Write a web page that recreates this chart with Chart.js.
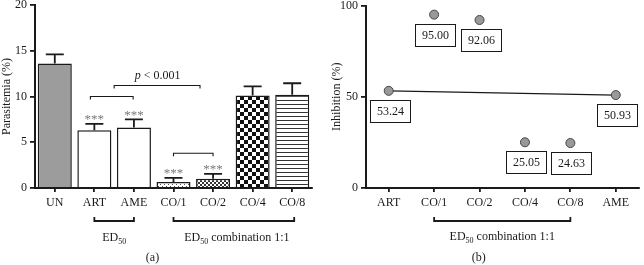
<!DOCTYPE html>
<html><head><meta charset="utf-8">
<script src="https://cdn.jsdelivr.net/npm/chart.js@4"></script>
<style>
html,body{margin:0;padding:0;background:#fff;overflow:hidden}
#wrap{position:relative;width:644px;height:265px;background:#fff}
canvas{position:absolute;top:0}
#ca{left:0}
#cb{left:330px}
</style></head><body>
<div id="wrap"><canvas id="ca" width="330" height="265"></canvas><canvas id="cb" width="314" height="265"></canvas></div>
<script>
// ---- data ----
const groupsA = ['UN','ART','AME','CO/1','CO/2','CO/4','CO/8'];
const parasitemia = [13.6, 6.3, 6.6, 0.65, 1.0, 10.1, 10.2];
const parasitemiaErr = [1.0, 0.7, 0.9, 0.45, 0.55, 1.0, 1.25];
const significant = [false, true, true, true, true, false, false];
const ticksA = [0, 5, 10, 15, 20];

const groupsB = ['ART','CO/1','CO/2','CO/4','CO/8','AME'];
const inhibition = [53.24, 95.00, 92.06, 25.05, 24.63, 50.93];
const ticksB = [0, 50, 100];

// ---- styling ----
const FONT = 'Liberation Serif';
const INK = '#1a1a1a';
const tickFont = {family: FONT, size: 12};

function makePattern(kind){
  const c = document.createElement('canvas');
  const g = c.getContext('2d');
  if (kind === 'dots'){ c.width=4; c.height=4; g.fillStyle='#fff'; g.fillRect(0,0,4,4); g.fillStyle='#555'; g.fillRect(0,0,1,1); g.fillRect(2,2,1,1); }
  else if (kind === 'fine'){ c.width=4; c.height=4; g.fillStyle='#fff'; g.fillRect(0,0,4,4); g.fillStyle='#333'; g.fillRect(0,0,2,2); g.fillRect(2,2,2,2); }
  else if (kind === 'check'){ c.width=8; c.height=8; g.fillStyle='#fff'; g.fillRect(0,0,8,8); g.fillStyle='#111'; g.fillRect(0,0,4,4); g.fillRect(4,4,4,4); }
  else if (kind === 'stripes'){ c.width=4; c.height=4; g.fillStyle='#fff'; g.fillRect(0,0,4,4); g.fillStyle='#333'; g.fillRect(0,0,4,1); }
  return g.createPattern(c, 'repeat');
}
const fillsA = ['#9c9c9c', '#ffffff', '#ffffff', makePattern('dots'), makePattern('fine'), makePattern('check'), makePattern('stripes')];

function catX(scale, f){
  const a = scale.getPixelForValue(0), b = scale.getPixelForValue(1);
  return a + f*(b-a);
}
function bracket(ctx, x1, x2, y, d){
  ctx.beginPath();
  ctx.moveTo(x1, y + d); ctx.lineTo(x1, y); ctx.lineTo(x2, y); ctx.lineTo(x2, y + d);
  ctx.stroke();
}
function edText(ctx, rest, cx, cy){
  ctx.save();
  ctx.textBaseline = 'middle';
  ctx.font = `12px "${FONT}"`;
  const w1 = ctx.measureText('ED').width;
  ctx.font = `8px "${FONT}"`;
  const w2 = ctx.measureText('50').width;
  ctx.font = `12px "${FONT}"`;
  const w3 = rest ? ctx.measureText(rest).width : 0;
  let x = cx - (w1 + w2 + w3)/2;
  ctx.textAlign = 'left';
  ctx.fillStyle = INK;
  ctx.fillText('ED', x, cy); x += w1;
  ctx.font = `8px "${FONT}"`;
  ctx.fillText('50', x, cy + 4); x += w2;
  if (rest){ ctx.font = `12px "${FONT}"`; ctx.fillText(rest, x, cy); }
  ctx.restore();
}

const annotA = {
  id: 'annotA',
  afterDatasetsDraw(chart){
    const ctx = chart.ctx, xs = chart.scales.x, ys = chart.scales.y, area = chart.chartArea;
    const meta = chart.getDatasetMeta(0);
    ctx.save();
    ctx.strokeStyle = INK; ctx.lineWidth = 1.8;
    meta.data.forEach((bar, i) => {
      const top = ys.getPixelForValue(parasitemia[i] + parasitemiaErr[i]);
      ctx.beginPath();
      ctx.moveTo(bar.x, bar.y); ctx.lineTo(bar.x, top);
      ctx.moveTo(bar.x - 9, top); ctx.lineTo(bar.x + 9, top);
      ctx.stroke();
      if (significant[i]){
        ctx.fillStyle = '#7a7a7a';
        ctx.font = `13px "${FONT}"`;
        ctx.textAlign = 'center'; ctx.textBaseline = 'middle';
        ctx.fillText('***', bar.x, top - 4);
      }
    });
    ctx.lineWidth = 1.1;
    // comparison brackets above bars
    bracket(ctx, catX(xs, 0.9), catX(xs, 1.98), ys.getPixelForValue(10.0), 3);
    bracket(ctx, catX(xs, 1.5), catX(xs, 3.67), ys.getPixelForValue(11.2), 3);
    bracket(ctx, catX(xs, 3.0), catX(xs, 4.0), ys.getPixelForValue(3.8), 3);
    // p value text
    const py = ys.getPixelForValue(12.3);
    ctx.fillStyle = INK; ctx.textBaseline = 'middle'; ctx.textAlign = 'left';
    ctx.font = `italic 12px "${FONT}"`;
    const wp = ctx.measureText('p').width;
    ctx.font = `12px "${FONT}"`;
    const wr = ctx.measureText(' < 0.001').width;
    let tx = catX(xs, 2.6) - (wp + wr)/2;
    ctx.font = `italic 12px "${FONT}"`; ctx.fillText('p', tx, py);
    ctx.font = `12px "${FONT}"`; ctx.fillText(' < 0.001', tx + wp, py);
    // group brackets below axis
    ctx.lineWidth = 1.8;
    const by = area.bottom + 33;
    bracket(ctx, catX(xs, 1), catX(xs, 2), by, -4);
    bracket(ctx, catX(xs, 3), catX(xs, 6.05), by, -4);
    edText(ctx, '', catX(xs, 1.5), area.bottom + 50);
    edText(ctx, ' combination 1:1', catX(xs, 4.6), area.bottom + 50);
    ctx.font = `12px "${FONT}"`; ctx.textAlign = 'center'; ctx.fillStyle = INK;
    ctx.fillText('(a)', catX(xs, 2.47), area.bottom + 70);
    ctx.restore();
  }
};

const annotB = {
  id: 'annotB',
  afterDatasetsDraw(chart){
    const ctx = chart.ctx, xs = chart.scales.x, area = chart.chartArea;
    const meta = chart.getDatasetMeta(0);
    ctx.save();
    ctx.strokeStyle = INK; ctx.lineWidth = 1;
    ctx.font = `12px "${FONT}"`; ctx.textAlign = 'center'; ctx.textBaseline = 'middle'; ctx.fillStyle = INK;
    meta.data.forEach((pt, i) => {
      const w = 40, h = 22;
      const bx = Math.round(pt.x + 1 - w/2) + 0.5, by = Math.round(pt.y + 9) + 0.5;
      ctx.fillStyle = '#fff'; ctx.fillRect(bx, by, w, h);
      ctx.strokeRect(bx, by, w, h);
      ctx.fillStyle = INK;
      ctx.fillText(inhibition[i].toFixed(2), bx + w/2, by + h/2 + 0.5);
    });
    ctx.lineWidth = 1.8;
    const by = area.bottom + 33;
    bracket(ctx, catX(xs, 1), catX(xs, 4), by, -4);
    edText(ctx, ' combination 1:1', catX(xs, 2.5), area.bottom + 49);
    ctx.font = `12px "${FONT}"`; ctx.textAlign = 'center'; ctx.fillStyle = INK;
    ctx.fillText('(b)', catX(xs, 1.98), area.bottom + 70);
    ctx.restore();
  }
};

function yScale(min, max, tickList, title, width){
  return {
    min, max,
    afterBuildTicks(s){ s.ticks = tickList.map(v => ({value: v})); },
    ticks: {font: tickFont, color: INK, padding: 3},
    grid: {drawOnChartArea: false, drawTicks: true, tickLength: 5, color: INK, lineWidth: 1.8},
    border: {display: true, color: INK, width: 2},
    title: {display: true, text: title, font: {family: FONT, size: 12}, color: INK, padding: {top: 0, bottom: 0}},
    afterFit(s){ s.width = width; s.paddingTop = 0; s.paddingBottom = 0; }
  };
}
function xScale(){
  return {
    offset: true,
    ticks: {font: tickFont, color: INK, padding: 4, maxRotation: 0, autoSkip: false},
    grid: {drawOnChartArea: false, drawTicks: true, offset: false, tickLength: 4, color: INK, lineWidth: 1.8},
    border: {display: true, color: INK, width: 2},
    afterFit(s){ s.height = 77; s.paddingLeft = 0; s.paddingRight = 0; }
  };
}

new Chart(document.getElementById('ca'), {
  type: 'bar',
  data: {
    labels: groupsA,
    datasets: [{
      data: parasitemia,
      backgroundColor: fillsA,
      borderColor: INK,
      borderWidth: 1.5,
      barPercentage: 0.86,
      categoryPercentage: 1
    }]
  },
  options: {
    responsive: false, animation: false,
    layout: {padding: {top: 5, right: 18, left: 0, bottom: 0}},
    plugins: {legend: {display: false}, tooltip: {enabled: false}},
    scales: {x: xScale(), y: yScale(0, 20, ticksA, 'Parasitemia (%)', 35)}
  },
  plugins: [annotA]
});

const connectB = inhibition.map((v, i) => (i === 0 || i === inhibition.length - 1) ? v : null);

new Chart(document.getElementById('cb'), {
  type: 'line',
  data: {
    labels: groupsB,
    datasets: [
      {data: inhibition, showLine: false, pointRadius: 4.5, pointBackgroundColor: '#999', pointBorderColor: '#444', pointBorderWidth: 1},
      {data: connectB, spanGaps: true, borderColor: INK, borderWidth: 1.2, pointRadius: 0, fill: false}
    ]
  },
  options: {
    responsive: false, animation: false,
    layout: {padding: {top: 5, right: 2, left: 0, bottom: 0}},
    plugins: {legend: {display: false}, tooltip: {enabled: false}},
    scales: {x: xScale(), y: yScale(0, 100, ticksB, 'Inhibition (%)', 36)}
  },
  plugins: [annotB]
});
</script>
</body></html>
